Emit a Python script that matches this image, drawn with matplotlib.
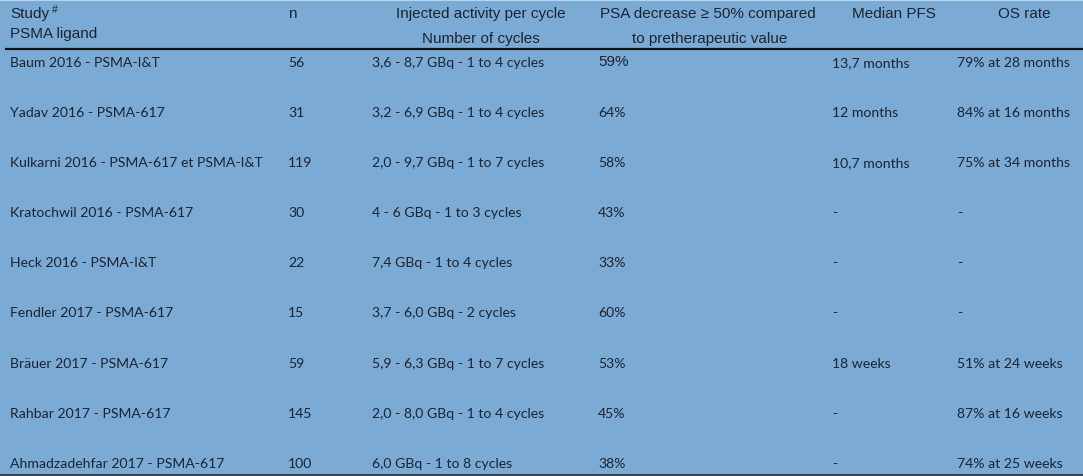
import matplotlib
matplotlib.use("Agg")
import matplotlib.pyplot as plt

studies = ["Baum 2016 - PSMA-I&T", "Yadav 2016 - PSMA-617",
           "Kulkarni 2016 - PSMA-617 et PSMA-I&T", "Kratochwil 2016 - PSMA-617",
           "Heck 2016 - PSMA-I&T", "Fendler 2017 - PSMA-617",
           "Bräuer 2017 - PSMA-617", "Rahbar 2017 - PSMA-617",
           "Ahmadzadehfar 2017 - PSMA-617"]
n_patients = ["56", "31", "119", "30", "22", "15", "59", "145", "100"]
activity = ["3,6 - 8,7 GBq - 1 to 4 cycles", "3,2 - 6,9 GBq - 1 to 4 cycles",
            "2,0 - 9,7 GBq - 1 to 7 cycles", "4 - 6 GBq - 1 to 3 cycles",
            "7,4 GBq - 1 to 4 cycles", "3,7 - 6,0 GBq - 2 cycles",
            "5,9 - 6,3 GBq - 1 to 7 cycles", "2,0 - 8,0 GBq - 1 to 4 cycles",
            "6,0 GBq - 1 to 8 cycles"]
psa = ["59%", "64%", "58%", "43%", "33%", "60%", "53%", "45%", "38%"]
pfs = ["13,7 months", "12 months", "10,7 months", "-", "-", "-", "18 weeks", "-", "-"]
os_rate = ["79% at 28 months", "84% at 16 months", "75% at 34 months", "-", "-", "-",
           "51% at 24 weeks", "87% at 16 weeks", "74% at 25 weeks"]

W, H = 1083, 477
BG = "#7BAAD5"
TXT = "#1C2431"

fig = plt.figure(figsize=(W / 100, H / 100), dpi=100)
fig.patch.set_facecolor(BG)
ax = fig.add_axes([0, 0, 1, 1])
ax.set_xlim(0, W)
ax.set_ylim(H, 0)
ax.axis("off")
ax.set_facecolor(BG)

hfont = dict(family="Liberation Sans", fontsize=11.0, color=TXT)
bfont = dict(family="Lato", fontsize=10.1, color=TXT)

# header
ax.text(10, 14, "Study", va="center", ha="left", **hfont)
ax.text(52, 10, "#", va="center", ha="left", family="Liberation Sans", fontsize=7.5, color=TXT)
ax.text(10, 34, "PSMA ligand", va="center", ha="left", **hfont)
ax.text(288, 14, "n", va="center", ha="left", **hfont)
ax.text(481, 14, "Injected activity per cycle", va="center", ha="center", **hfont)
ax.text(481, 39, "Number of cycles", va="center", ha="center", **hfont)
ax.text(600, 14, "PSA decrease \u2265 50% compared", va="center", ha="left", **hfont)
ax.text(632, 39, "to pretherapeutic value", va="center", ha="left", **hfont)
ax.text(894, 14, "Median PFS", va="center", ha="center", **hfont)
ax.text(1024, 14, "OS rate", va="center", ha="center", **hfont)

ax.plot([5, W], [49.5, 49.5], color="#111111", lw=1.6, solid_capstyle="butt")
ax.plot([0, W], [475.5, 475.5], color="#3A4350", lw=1.5, solid_capstyle="butt")
ax.plot([0, W], [0.5, 0.5], color="#C9DDEF", lw=1.2)

row_y0, row_dy = 63, 50.1
cols = [(10, studies), (288, n_patients), (372, activity), (598, psa), (832, pfs), (957, os_rate)]
for i in range(len(studies)):
    y = row_y0 + i * row_dy
    for x, arr in cols:
        if arr is psa and i == 0:
            # first PSA cell is set in the header typeface in the original
            ax.text(x, y - 1.5, arr[i], va="center", ha="left", **hfont)
        else:
            ax.text(x, y, arr[i], va="center", ha="left", **bfont)

fig.savefig("out.png", dpi=100, facecolor=BG)
